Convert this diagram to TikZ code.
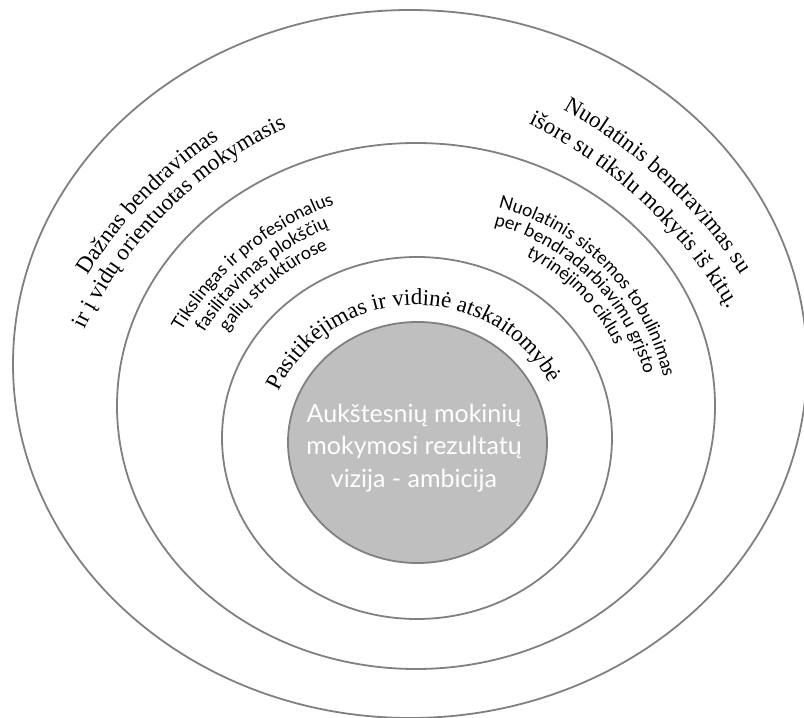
\documentclass[tikz,border=0pt]{standalone}
\usepackage{fontspec}
\setmainfont{Liberation Serif}
\newfontfamily\gillfont{Lato}
\usetikzlibrary{shapes.geometric,decorations.text}
\newcommand\serifring{\rmfamily\fontsize{23}{23}\selectfont}
\newcommand\sansring{\gillfont\fontsize{18}{18}\selectfont}
\definecolor{ringgray}{HTML}{808080}
\definecolor{corefill}{HTML}{BFBFBF}
\begin{document}
\begin{tikzpicture}[x=1pt,y=1pt,
  ring/.style={ellipse, draw=ringgray, line width=1.8pt, inner sep=0pt, outer sep=0pt},
  arctext/.style={decorate, decoration={text along path, text align=center, text={#1}}}
]
\useasboundingbox (0,0) rectangle (804,718);

% nested rings
\node[ring, minimum width=794, minimum height=708] (outer) at (410,354) {};
\node[ring, minimum width=598, minimum height=526] (middle) at (416,312) {};
\node[ring, minimum width=390, minimum height=362] (inner) at (417,280) {};
\node[ring, fill=corefill, minimum width=259, minimum height=241] (core) at (417.5,275.5) {};

% centres of the lettering arcs
\coordinate (cOL) at (472,203);
\coordinate (cOR) at (321,170);
\coordinate (cML) at (434,238);
\coordinate (cMR) at (443,291);
\coordinate (cIN) at (416,260);

% outer ring, left
\path[arctext={|\serifring|Dažnas bendravimas}]
  ([shift={(166:453)}]cOL) arc[start angle=166, end angle=106, radius=453];
\path[arctext={|\serifring|ir į vidų orientuotas mokymasis}]
  ([shift={(170:429.5)}]cOL) arc[start angle=170, end angle=100, radius=429.5];

% outer ring, right
\path[arctext={|\serifring|Nuolatinis bendravimas su}]
  ([shift={(77.1:501)}]cOR) arc[start angle=77.1, end angle=17.1, radius=501];
\path[arctext={|\serifring|išore su tikslu mokytis iš kitų.}]
  ([shift={(77.2:472)}]cOR) arc[start angle=77.2, end angle=17.2, radius=472];

% middle ring, left
\path[arctext={|\sansring|Tikslingas ir profesionalus}]
  ([shift={(164.7:293)}]cML) arc[start angle=164.7, end angle=94.7, radius=293];
\path[arctext={|\sansring|fasilitavimas plokščių}]
  ([shift={(165:273)}]cML) arc[start angle=165, end angle=95, radius=273];
\path[arctext={|\sansring|galių struktūrose}]
  ([shift={(164.5:254)}]cML) arc[start angle=164.5, end angle=94.5, radius=254];

% middle ring, right
\path[arctext={|\sansring|Nuolatinis sistemos tobulinimas}]
  ([shift={(94.3:226)}]cMR) arc[start angle=94.3, end angle=-5.7, radius=226];
\path[arctext={|\sansring|per bendradarbiavimu grįsto}]
  ([shift={(95.2:208)}]cMR) arc[start angle=95.2, end angle=-4.8, radius=208];
\path[arctext={|\sansring|tyrinėjimo ciklus}]
  ([shift={(94.7:190)}]cMR) arc[start angle=94.7, end angle=-5.3, radius=190];

% inner ring
\path[arctext={|\serifring|Pasitikėjimas ir vidinė atskaitomybė}]
  ([shift={(181.6:153)}]cIN) arc[start angle=181.6, end angle=1.6, radius=153];

% core
\node[text=white, font={\gillfont\fontsize{25}{32.5}\selectfont}, align=center]
  (vision) at (414,270) {Aukštesnių mokinių\\mokymosi rezultatų\\vizija - ambicija};
\end{tikzpicture}
\end{document}
